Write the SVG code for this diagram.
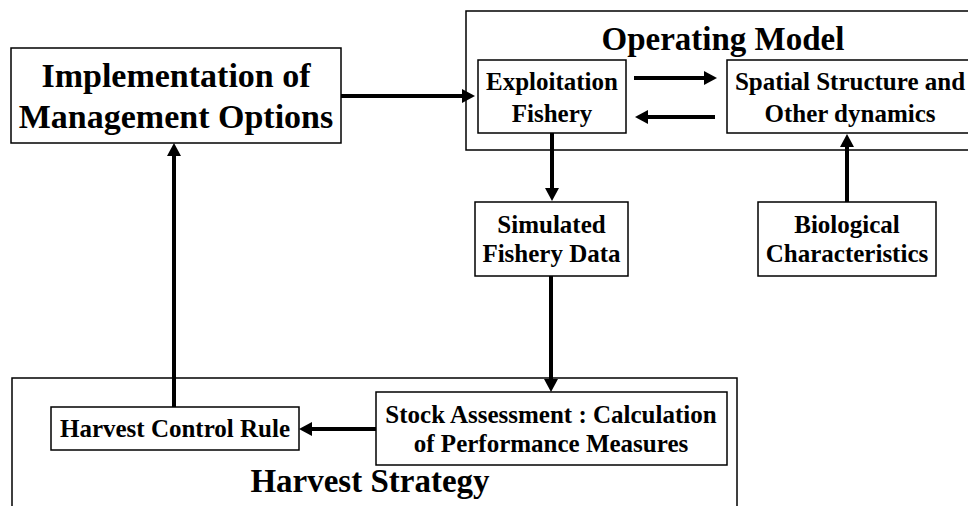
<svg xmlns="http://www.w3.org/2000/svg" width="968" height="506" viewBox="0 0 968 506">
<style>
.box{fill:#fff;stroke:#000;stroke-width:1.5}
.frame{fill:none;stroke:#000;stroke-width:1.5}
.t{font-family:"Liberation Serif","Times New Roman",serif;font-weight:bold;fill:#000;text-anchor:middle}
.s25{font-size:25px}
.s33{font-size:33px}
.s34{font-size:34px}
.arr{stroke:#000;stroke-width:4;fill:none;marker-end:url(#ah)}
</style>
<defs>
<marker id="ah" markerUnits="userSpaceOnUse" markerWidth="14" markerHeight="14" refX="3" refY="7" orient="auto">
<path d="M0,0 L13,7 L0,14 z" fill="#000"/>
</marker>
</defs>
<rect width="968" height="506" fill="#fff"/>
<g id="operating-model">
<rect class="frame" x="466" y="11" width="520" height="139"/>
<text class="t s33" x="723" y="50">Operating Model</text>
</g>
<g id="harvest-strategy">
<rect class="frame" x="12" y="378" width="725" height="140"/>
<text class="t s33" x="370" y="492">Harvest Strategy</text>
</g>
<g id="implementation">
<rect class="box" x="11" y="48" width="330" height="95"/>
<text class="t s34" x="176" y="87">Implementation of</text>
<text class="t s34" x="176" y="128">Management Options</text>
</g>
<g id="exploitation">
<rect class="box" x="478" y="60" width="148" height="73"/>
<text class="t s25" x="552" y="90">Exploitation</text>
<text class="t s25" x="552" y="122">Fishery</text>
</g>
<g id="spatial">
<rect class="box" x="727" y="60" width="260" height="73"/>
<text class="t s25" x="850" y="90">Spatial Structure and</text>
<text class="t s25" x="850" y="122">Other dynamics</text>
</g>
<g id="simulated">
<rect class="box" x="475" y="202" width="153" height="74"/>
<text class="t s25" x="551.5" y="233">Simulated</text>
<text class="t s25" x="551.5" y="262">Fishery Data</text>
</g>
<g id="biological">
<rect class="box" x="758" y="202" width="178" height="74"/>
<text class="t s25" x="847" y="233">Biological</text>
<text class="t s25" x="847" y="262">Characteristics</text>
</g>
<g id="stock-assessment">
<rect class="box" x="376" y="392" width="351" height="73"/>
<text class="t s25" x="551" y="423">Stock Assessment : Calculation</text>
<text class="t s25" x="551" y="452">of Performance Measures</text>
</g>
<g id="hcr">
<rect class="box" x="51" y="407" width="248" height="43"/>
<text class="t s25" x="175" y="437">Harvest Control Rule</text>
</g>
<g id="connectors">
<line class="arr" x1="341" y1="96" x2="465" y2="96"/>
<line class="arr" x1="634" y1="78" x2="707" y2="78"/>
<line class="arr" x1="715" y1="117" x2="645" y2="117"/>
<line class="arr" x1="552" y1="133" x2="552" y2="191"/>
<line class="arr" x1="847" y1="202" x2="847" y2="144"/>
<line class="arr" x1="551" y1="276" x2="551" y2="382"/>
<line class="arr" x1="376" y1="429" x2="309" y2="429"/>
<line class="arr" x1="174" y1="407" x2="174" y2="153"/>
</g>
</svg>
